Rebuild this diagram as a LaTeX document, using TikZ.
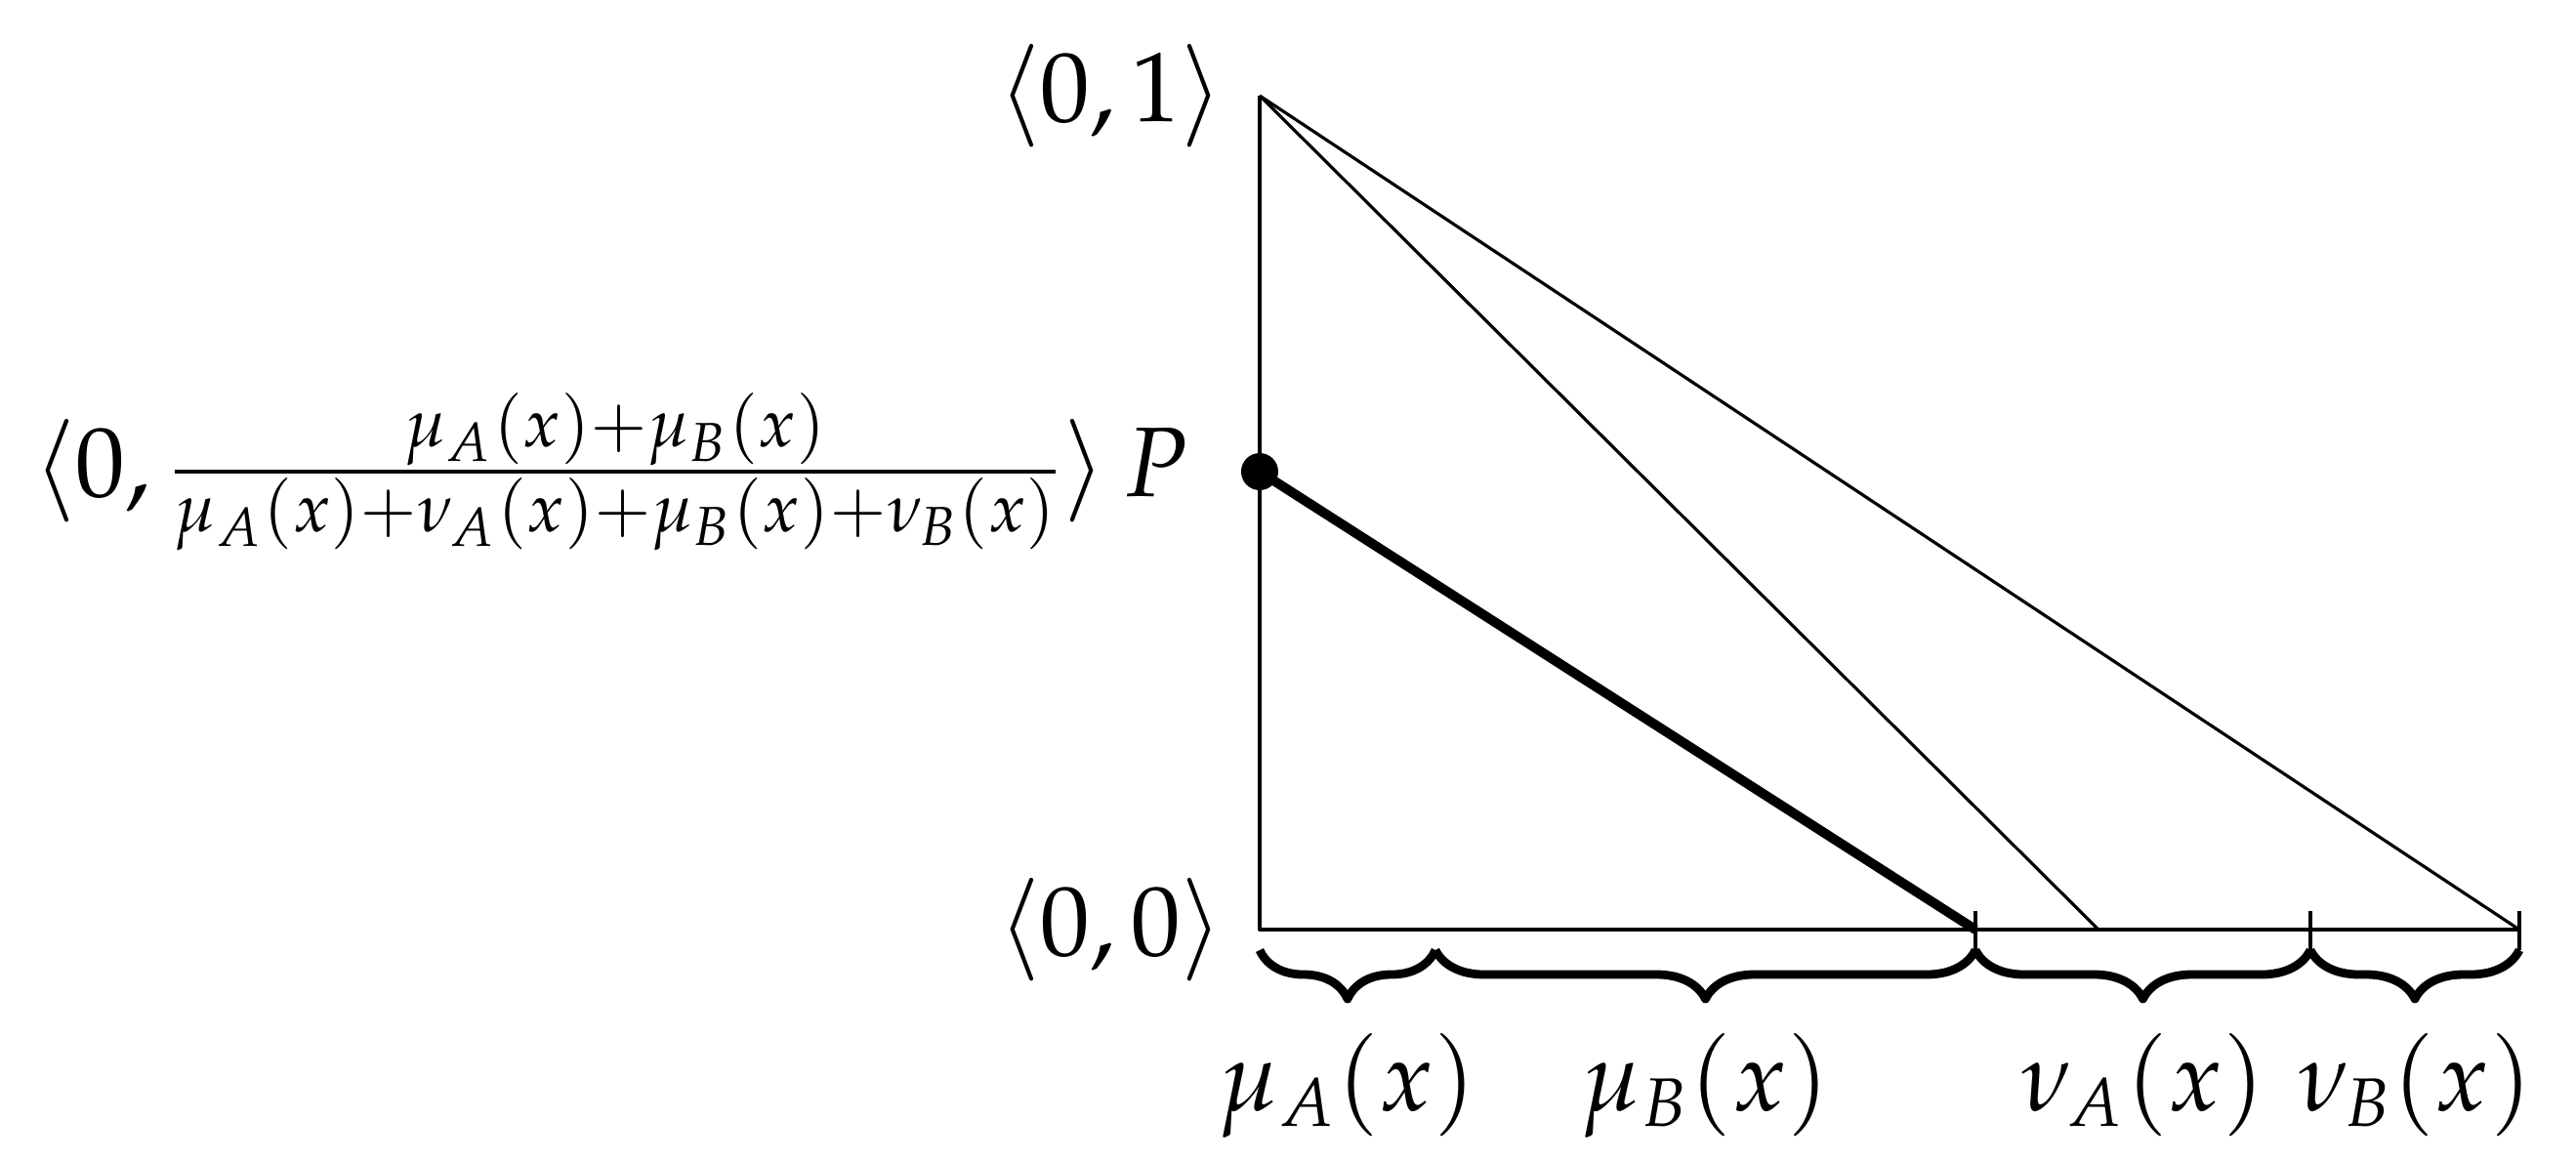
\documentclass[tikz,border=0pt]{standalone}
\usepackage{amsmath}
\usepackage{mathpazo}
\usetikzlibrary{positioning,decorations.pathreplacing}

\begin{document}
\begin{tikzpicture}[font=\Large, line join=round]
    \tikzstyle{axis} = [line width=0.55pt]
    \tikzstyle{ray} = [line width=0.45pt]
    \tikzstyle{result} = [line width=1.4pt]
    \tikzstyle{pt} = [circle, fill=black, inner sep=0pt, minimum size=0.19cm]
    \tikzstyle{brace} = [decorate, decoration={brace, mirror, amplitude=0.25cm}, line width=1.25pt]
    \tikzstyle{lab} = [inner sep=0pt]

    \useasboundingbox (-6.45,-1.18) rectangle (6.74,4.76);

    % Points on the axes
    \coordinate (o) at (0,0);
    \coordinate (ytop) at (0,4.27);
    \coordinate (xend) at (6.45,0);
    \coordinate (m) at (4.295,0);
    \coordinate (q) at (3.665,0);
    \coordinate (s) at (5.38,0);
    \coordinate (split) at (0.9,0);
    \node[pt] (p) at (0,2.345) {};

    % Axes and lines
    \draw[axis] (ytop) -- (o) -- (xend);
    \draw[ray] (ytop) -- (xend);
    \draw[ray] (ytop) -- (m);
    \draw[result] (p.center) -- (q);

    % Ticks
    \foreach \c in {q,s,xend}
        \draw[axis] ([yshift=0.095cm]\c) -- ([yshift=-0.105cm]\c);

    % Braces
    \draw[brace] ([yshift=-0.105cm]o) -- node[below=0.29cm] (ma) {$\mu_A(x)$} ([yshift=-0.105cm]split);
    \draw[brace] ([yshift=-0.105cm]split) -- node[below=0.29cm] (mb) {$\mu_B(x)$} ([yshift=-0.105cm]q);
    \draw[brace] ([yshift=-0.105cm]q) -- node[below=0.29cm] (na) {$\nu_A(x)$} ([yshift=-0.105cm]s);
    \draw[brace] ([yshift=-0.105cm]s) -- node[below=0.29cm] (nb) {$\nu_B(x)$} ([yshift=-0.105cm]xend);

    % Labels
    \node[lab, left=0.18cm of ytop] (l01) {$\langle 0,1\rangle$};
    \node[lab, left=0.18cm of o] (l00) {$\langle 0,0\rangle$};
    \node[lab, left=0.26cm of p] (lp) {$\langle 0, \frac{\mu_A(x)+\mu_B(x)}{\mu_A(x)+\nu_A(x)+\mu_B(x)+\nu_B(x)}\rangle\,P$};
\end{tikzpicture}
\end{document}
